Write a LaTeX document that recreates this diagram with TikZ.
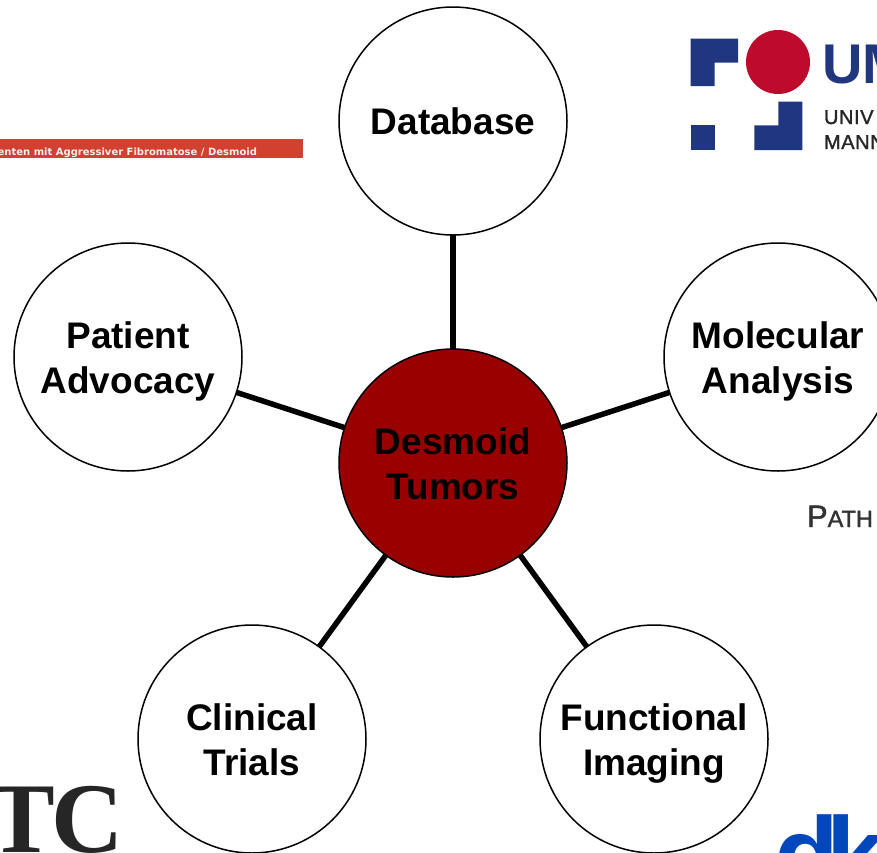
\documentclass[tikz,border=0pt]{standalone}
\usepackage{fontspec}
\setmainfont{Liberation Sans}
\newfontfamily\serifface{Liberation Serif}
\newfontfamily\barface{DejaVu Sans}
\newfontfamily\logoface[FakeBold=1.5,LetterSpace=3]{Liberation Sans}
\newfontfamily\pathface[FakeBold=1.5]{Liberation Sans}
\definecolor{umblue}{HTML}{20367F}
\definecolor{umred}{HTML}{BE0A2D}
\definecolor{barred}{HTML}{D2402F}
\definecolor{tumor}{HTML}{990000}
\definecolor{dkblue}{HTML}{0047BB}
\newcommand\toprow{\rule{0pt}{35pt}}
\newcommand\botrow{\rule[-8pt]{0pt}{8pt}}
\tikzset{
  topic/.style={circle,draw=black,fill=white,line width=1.5pt,minimum size=228pt,inner sep=0pt,outer sep=0pt,align=center,
    font=\fontsize{37}{45}\selectfont\bfseries},
  hub/.style={topic,fill=tumor},
  spoke/.style={line width=5.5pt,draw=black},
  logotext/.style={inner sep=0pt,outer sep=0pt,anchor=base west},
}
\begin{document}
\begin{tikzpicture}[x=1pt,y=-1pt]
\useasboundingbox (0,0) rectangle (877,852);
\clip (0,0) rectangle (877,852);
\fill[white] (0,0) rectangle (877,852);
% logos
\fill[umblue] (690.5,38.5) -- (738,38.5) -- (738,62.7) -- (714.7,62.7) -- (714.7,86) -- (690.5,86) -- cycle;
\fill[umblue] (690.5,125.3) rectangle (714.7,150);
\fill[umblue] (778.3,101.7) -- (802.3,101.7) -- (802.3,150) -- (754.3,150) -- (754.3,125.3) -- (778.3,125.3) -- cycle;
\fill[umred] (778,62) circle (32);
\node[logotext,text=umblue] (um) at (822,83) {\fontsize{56}{56}\selectfont\bfseries UM};
\node[logotext,text=black!85] (univ) at (824,124) {\fontsize{20}{20}\logoface UNIV};
\node[logotext,text=black!85] (mann) at (824,149) {\fontsize{20}{20}\logoface MANN};
\fill[barred] (0,139) rectangle (303,158);
\node[inner sep=0pt,outer sep=0pt,anchor=base east,text=white!92!barred] (bar) at (257,155) {\barface\fontsize{10}{10}\selectfont\bfseries enten mit Aggressiver Fibromatose / Desmoid};
\node[logotext,text=black!85] (tc) at (-11,852) {\serifface\fontsize{100}{100}\selectfont\bfseries T\kern-4pt C};
\node[logotext,text=black!80] (path) at (807,527) {\pathface\fontsize{31}{31}\selectfont P\fontsize{23.5}{24}\selectfont ATH};
\node[logotext,text=dkblue] (dkd) at (774,891) {\fontsize{106}{106}\selectfont\bfseries d};
\node[logotext,text=dkblue] (dkk) at (826,891) {\fontsize{106}{106}\selectfont\bfseries k};
% diagram
\node[hub] (hubnode) at (453,463) {\toprow Desmoid\\Tumors\botrow};
\node[topic] (db) at (453,121) {Database};
\node[topic] (pa) at (128,357) {\toprow Patient\\Advocacy\botrow};
\node[topic] (ma) at (778,357) {\toprow Molecular\\Analysis\botrow};
\node[topic] (ct) at (252,739) {\toprow Clinical\\Trials\botrow};
\node[topic] (fi) at (654,739) {\toprow Functional\\Imaging\botrow};
\draw[spoke] (hubnode) -- (db);
\draw[spoke] (hubnode) -- (pa);
\draw[spoke] (hubnode) -- (ma);
\draw[spoke] (hubnode) -- (ct);
\draw[spoke] (hubnode) -- (fi);
\end{tikzpicture}
\end{document}
